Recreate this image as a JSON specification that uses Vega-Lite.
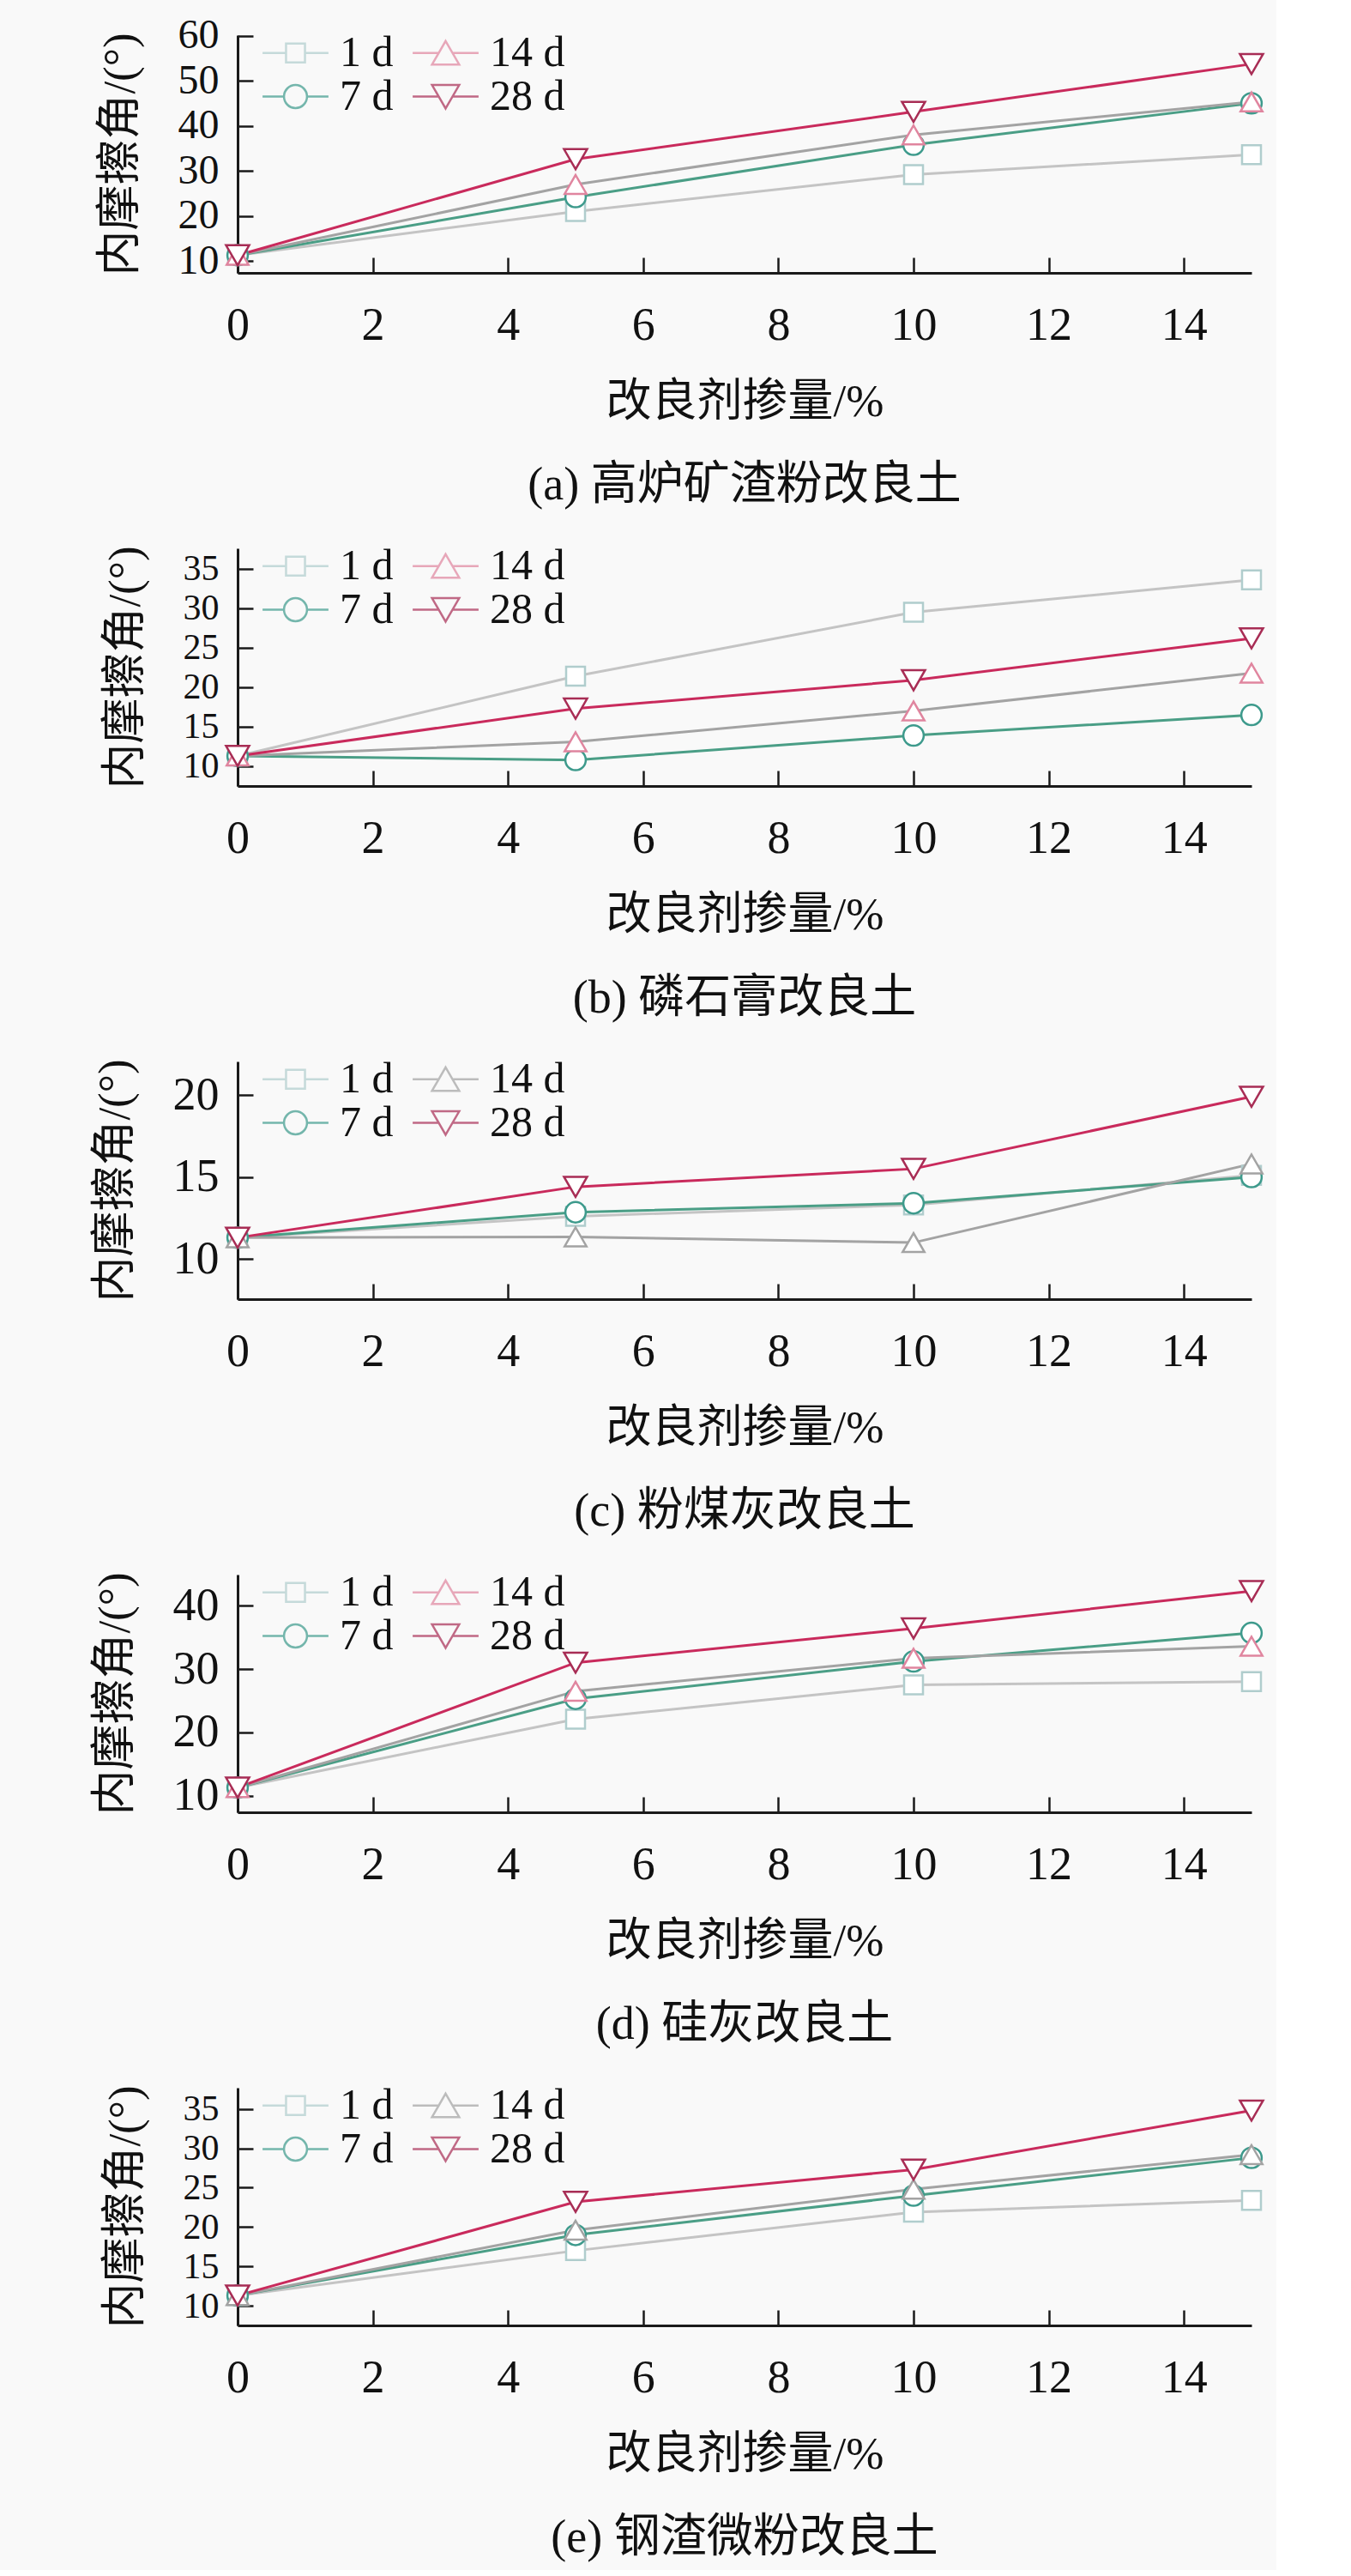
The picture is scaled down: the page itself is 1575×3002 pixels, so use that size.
{
  "$schema": "https://vega.github.io/schema/vega-lite/v6.json",
  "background": "#f9f9f9",
  "padding": {"left": 108, "top": 17, "right": 10, "bottom": 10},
  "datasets": {
    "phi": [
      {"panel": "a", "dose": 0, "age": "1 d", "phi": 11.3},
      {"panel": "a", "dose": 5, "age": "1 d", "phi": 21.0},
      {"panel": "a", "dose": 10, "age": "1 d", "phi": 29.2},
      {"panel": "a", "dose": 15, "age": "1 d", "phi": 33.6},
      {"panel": "a", "dose": 0, "age": "7 d", "phi": 11.3},
      {"panel": "a", "dose": 5, "age": "7 d", "phi": 24.2},
      {"panel": "a", "dose": 10, "age": "7 d", "phi": 35.8},
      {"panel": "a", "dose": 15, "age": "7 d", "phi": 45.0},
      {"panel": "a", "dose": 0, "age": "14 d", "phi": 11.3},
      {"panel": "a", "dose": 5, "age": "14 d", "phi": 27.0},
      {"panel": "a", "dose": 10, "age": "14 d", "phi": 38.0},
      {"panel": "a", "dose": 15, "age": "14 d", "phi": 45.3},
      {"panel": "a", "dose": 0, "age": "28 d", "phi": 11.3},
      {"panel": "a", "dose": 5, "age": "28 d", "phi": 32.6},
      {"panel": "a", "dose": 10, "age": "28 d", "phi": 43.1},
      {"panel": "a", "dose": 15, "age": "28 d", "phi": 53.7},

      {"panel": "b", "dose": 0, "age": "1 d", "phi": 11.3},
      {"panel": "b", "dose": 5, "age": "1 d", "phi": 21.4},
      {"panel": "b", "dose": 10, "age": "1 d", "phi": 29.5},
      {"panel": "b", "dose": 15, "age": "1 d", "phi": 33.6},
      {"panel": "b", "dose": 0, "age": "7 d", "phi": 11.3},
      {"panel": "b", "dose": 5, "age": "7 d", "phi": 10.8},
      {"panel": "b", "dose": 10, "age": "7 d", "phi": 13.9},
      {"panel": "b", "dose": 15, "age": "7 d", "phi": 16.5},
      {"panel": "b", "dose": 0, "age": "14 d", "phi": 11.3},
      {"panel": "b", "dose": 5, "age": "14 d", "phi": 13.1},
      {"panel": "b", "dose": 10, "age": "14 d", "phi": 17.0},
      {"panel": "b", "dose": 15, "age": "14 d", "phi": 21.8},
      {"panel": "b", "dose": 0, "age": "28 d", "phi": 11.3},
      {"panel": "b", "dose": 5, "age": "28 d", "phi": 17.3},
      {"panel": "b", "dose": 10, "age": "28 d", "phi": 20.9},
      {"panel": "b", "dose": 15, "age": "28 d", "phi": 26.2},

      {"panel": "c", "dose": 0, "age": "1 d", "phi": 11.3},
      {"panel": "c", "dose": 5, "age": "1 d", "phi": 12.6},
      {"panel": "c", "dose": 10, "age": "1 d", "phi": 13.3},
      {"panel": "c", "dose": 15, "age": "1 d", "phi": 15.1},
      {"panel": "c", "dose": 0, "age": "7 d", "phi": 11.3},
      {"panel": "c", "dose": 5, "age": "7 d", "phi": 12.85},
      {"panel": "c", "dose": 10, "age": "7 d", "phi": 13.4},
      {"panel": "c", "dose": 15, "age": "7 d", "phi": 15.0},
      {"panel": "c", "dose": 0, "age": "14 d", "phi": 11.3},
      {"panel": "c", "dose": 5, "age": "14 d", "phi": 11.35},
      {"panel": "c", "dose": 10, "age": "14 d", "phi": 11.0},
      {"panel": "c", "dose": 15, "age": "14 d", "phi": 15.8},
      {"panel": "c", "dose": 0, "age": "28 d", "phi": 11.3},
      {"panel": "c", "dose": 5, "age": "28 d", "phi": 14.4},
      {"panel": "c", "dose": 10, "age": "28 d", "phi": 15.5},
      {"panel": "c", "dose": 15, "age": "28 d", "phi": 19.9},

      {"panel": "d", "dose": 0, "age": "1 d", "phi": 11.3},
      {"panel": "d", "dose": 5, "age": "1 d", "phi": 22.1},
      {"panel": "d", "dose": 10, "age": "1 d", "phi": 27.5},
      {"panel": "d", "dose": 15, "age": "1 d", "phi": 28.0},
      {"panel": "d", "dose": 0, "age": "7 d", "phi": 11.3},
      {"panel": "d", "dose": 5, "age": "7 d", "phi": 25.3},
      {"panel": "d", "dose": 10, "age": "7 d", "phi": 31.2},
      {"panel": "d", "dose": 15, "age": "7 d", "phi": 35.7},
      {"panel": "d", "dose": 0, "age": "14 d", "phi": 11.3},
      {"panel": "d", "dose": 5, "age": "14 d", "phi": 26.5},
      {"panel": "d", "dose": 10, "age": "14 d", "phi": 31.7},
      {"panel": "d", "dose": 15, "age": "14 d", "phi": 33.6},
      {"panel": "d", "dose": 0, "age": "28 d", "phi": 11.3},
      {"panel": "d", "dose": 5, "age": "28 d", "phi": 31.0},
      {"panel": "d", "dose": 10, "age": "28 d", "phi": 36.4},
      {"panel": "d", "dose": 15, "age": "28 d", "phi": 42.3},

      {"panel": "e", "dose": 0, "age": "1 d", "phi": 11.3},
      {"panel": "e", "dose": 5, "age": "1 d", "phi": 17.0},
      {"panel": "e", "dose": 10, "age": "1 d", "phi": 21.9},
      {"panel": "e", "dose": 15, "age": "1 d", "phi": 23.4},
      {"panel": "e", "dose": 0, "age": "7 d", "phi": 11.3},
      {"panel": "e", "dose": 5, "age": "7 d", "phi": 19.0},
      {"panel": "e", "dose": 10, "age": "7 d", "phi": 24.0},
      {"panel": "e", "dose": 15, "age": "7 d", "phi": 28.8},
      {"panel": "e", "dose": 0, "age": "14 d", "phi": 11.3},
      {"panel": "e", "dose": 5, "age": "14 d", "phi": 19.6},
      {"panel": "e", "dose": 10, "age": "14 d", "phi": 24.8},
      {"panel": "e", "dose": 15, "age": "14 d", "phi": 29.2},
      {"panel": "e", "dose": 0, "age": "28 d", "phi": 11.3},
      {"panel": "e", "dose": 5, "age": "28 d", "phi": 23.2},
      {"panel": "e", "dose": 10, "age": "28 d", "phi": 27.3},
      {"panel": "e", "dose": 15, "age": "28 d", "phi": 34.8}
    ]
  },
  "config": {
    "view": {"stroke": null},
    "font": "Liberation Serif, Noto Sans CJK SC",
    "axis": {
      "grid": false,
      "domainColor": "#1a1a1a",
      "domainWidth": 3,
      "tickColor": "#1a1a1a",
      "tickWidth": 2.5,
      "tickSize": -18,
      "labelFont": "Liberation Serif",
      "labelFontSize": 54,
      "labelColor": "#111111",
      "labelOverlap": false,
      "titleFont": "Liberation Serif, Noto Sans CJK SC",
      "titleFontSize": 53,
      "titleFontWeight": "normal",
      "titleColor": "#111111"
    },
    "axisX": {"labelPadding": 52, "titlePadding": 36, "labelFlush": false},
    "axisY": {"labelPadding": 40, "titlePadding": 40},
    "title": {"font": "Liberation Serif, Noto Sans CJK SC", "fontSize": 54, "fontWeight": "normal", "color": "#111111", "orient": "bottom", "offset": 44},
    "legend": {
      "orient": "none",
      "legendX": 42,
      "legendY": -5,
      "columns": 2,
      "columnPadding": 17,
      "rowPadding": 0,
      "padding": 0,
      "labelFont": "Liberation Serif",
      "labelFontSize": 50,
      "labelColor": "#111111",
      "labelOffset": 26,
      "symbolSize": 2304,
      "symbolStrokeWidth": 2.5,
      "title": null
    }
  },
  "vconcat": [
    {
      "width": 1182, "height": 277,
      "title": "(a) 高炉矿渣粉改良土",
      "data": {"name": "phi"},
      "transform": [{"filter": "datum.panel === 'a'"}],
      "encoding": {
        "x": {"field": "dose", "type": "quantitative", "scale": {"domain": [0, 15], "nice": false}, "axis": {"values": [0, 2, 4, 6, 8, 10, 12, 14], "title": "改良剂掺量/%"}},
        "y": {"field": "phi", "type": "quantitative", "scale": {"domain": [7.4, 60.1], "nice": false, "zero": false}, "axis": {"values": [10, 20, 30, 40, 50, 60], "title": "内摩擦角/(°)", "labelFontSize": 48}}
      },
      "layer": [
        {"mark": {"type": "line", "strokeWidth": 3}, "encoding": {"stroke": {"field": "age", "type": "nominal", "scale": {"domain": ["1 d", "7 d", "14 d", "28 d"], "range": ["#c4c4c4", "#4a9e86", "#a3a3a3", "#c92a5c"]}, "legend": null}}},
        {"mark": {"type": "point", "filled": false, "fill": "#ffffff", "strokeWidth": 2.5, "opacity": 1},
         "encoding": {
           "shape": {"field": "age", "type": "nominal", "scale": {"domain": ["1 d", "7 d", "14 d", "28 d"], "range": ["square", "circle", "triangle-up", "triangle-down"]}, "legend": null},
           "stroke": {"field": "age", "type": "nominal", "scale": {"domain": ["1 d", "7 d", "14 d", "28 d"], "range": ["#b0cdcd", "#3d9a8c", "#e0859f", "#a82d55"]}, "legend": null},
           "size": {"field": "age", "type": "nominal", "scale": {"domain": ["1 d", "7 d", "14 d", "28 d"], "range": [484, 729, 1450, 1450]}, "legend": null}
         }},
        {"transform": [{"filter": "false"}],
         "mark": {"type": "point", "filled": false, "strokeWidth": 2.5, "size": 2304},
         "encoding": {
           "shape": {"field": "age", "type": "nominal", "scale": {"domain": ["1 d", "7 d", "14 d", "28 d"], "range": ["M-1.6,0H-0.46M0.46,0H1.6M-0.46,-0.46H0.46V0.46H-0.46Z", "M-1.6,0H-0.56M0.56,0H1.6M0.56,0A0.56,0.56,0,1,1,-0.56,0A0.56,0.56,0,1,1,0.56,0Z", "M-1.6,0H-0.33M0.33,0H1.6M0,-0.58L0.66,0.56L-0.66,0.56Z", "M-1.6,0H-0.33M0.33,0H1.6M0,0.58L0.66,-0.56L-0.66,-0.56Z"]}, "legend": {"title": null}},
           "stroke": {"field": "age", "type": "nominal", "scale": {"domain": ["1 d", "7 d", "14 d", "28 d"], "range": ["#b0cdcd", "#3d9a8c", "#e0859f", "#a82d55"]}, "legend": {"title": null}}
         }}
      ],
      "resolve": {"scale": {"stroke": "independent", "shape": "independent", "size": "independent"}}
    },
    {
      "width": 1182, "height": 277,
      "title": "(b) 磷石膏改良土",
      "data": {"name": "phi"},
      "transform": [{"filter": "datum.panel === 'b'"}],
      "encoding": {
        "x": {"field": "dose", "type": "quantitative", "scale": {"domain": [0, 15], "nice": false}, "axis": {"values": [0, 2, 4, 6, 8, 10, 12, 14], "title": "改良剂掺量/%"}},
        "y": {"field": "phi", "type": "quantitative", "scale": {"domain": [7.5, 37.6], "nice": false, "zero": false}, "axis": {"values": [10, 15, 20, 25, 30, 35], "title": "内摩擦角/(°)", "labelFontSize": 42}}
      },
      "layer": [
        {"mark": {"type": "line", "strokeWidth": 3}, "encoding": {"stroke": {"field": "age", "type": "nominal", "scale": {"domain": ["1 d", "7 d", "14 d", "28 d"], "range": ["#c4c4c4", "#4a9e86", "#a3a3a3", "#c92a5c"]}, "legend": null}}},
        {"mark": {"type": "point", "filled": false, "fill": "#ffffff", "strokeWidth": 2.5, "opacity": 1},
         "encoding": {
           "shape": {"field": "age", "type": "nominal", "scale": {"domain": ["1 d", "7 d", "14 d", "28 d"], "range": ["square", "circle", "triangle-up", "triangle-down"]}, "legend": null},
           "stroke": {"field": "age", "type": "nominal", "scale": {"domain": ["1 d", "7 d", "14 d", "28 d"], "range": ["#b0cdcd", "#3d9a8c", "#e0859f", "#a82d55"]}, "legend": null},
           "size": {"field": "age", "type": "nominal", "scale": {"domain": ["1 d", "7 d", "14 d", "28 d"], "range": [484, 729, 1450, 1450]}, "legend": null}
         }},
        {"transform": [{"filter": "false"}],
         "mark": {"type": "point", "filled": false, "strokeWidth": 2.5, "size": 2304},
         "encoding": {
           "shape": {"field": "age", "type": "nominal", "scale": {"domain": ["1 d", "7 d", "14 d", "28 d"], "range": ["M-1.6,0H-0.46M0.46,0H1.6M-0.46,-0.46H0.46V0.46H-0.46Z", "M-1.6,0H-0.56M0.56,0H1.6M0.56,0A0.56,0.56,0,1,1,-0.56,0A0.56,0.56,0,1,1,0.56,0Z", "M-1.6,0H-0.33M0.33,0H1.6M0,-0.58L0.66,0.56L-0.66,0.56Z", "M-1.6,0H-0.33M0.33,0H1.6M0,0.58L0.66,-0.56L-0.66,-0.56Z"]}, "legend": {"title": null}},
           "stroke": {"field": "age", "type": "nominal", "scale": {"domain": ["1 d", "7 d", "14 d", "28 d"], "range": ["#b0cdcd", "#3d9a8c", "#e0859f", "#a82d55"]}, "legend": {"title": null}}
         }}
      ],
      "resolve": {"scale": {"stroke": "independent", "shape": "independent", "size": "independent"}}
    },
    {
      "width": 1182, "height": 277,
      "title": "(c) 粉煤灰改良土",
      "data": {"name": "phi"},
      "transform": [{"filter": "datum.panel === 'c'"}],
      "encoding": {
        "x": {"field": "dose", "type": "quantitative", "scale": {"domain": [0, 15], "nice": false}, "axis": {"values": [0, 2, 4, 6, 8, 10, 12, 14], "title": "改良剂掺量/%"}},
        "y": {"field": "phi", "type": "quantitative", "scale": {"domain": [7.55, 22.05], "nice": false, "zero": false}, "axis": {"values": [10, 15, 20], "title": "内摩擦角/(°)"}}
      },
      "layer": [
        {"mark": {"type": "line", "strokeWidth": 3}, "encoding": {"stroke": {"field": "age", "type": "nominal", "scale": {"domain": ["1 d", "7 d", "14 d", "28 d"], "range": ["#c4c4c4", "#4a9e86", "#a3a3a3", "#c92a5c"]}, "legend": null}}},
        {"mark": {"type": "point", "filled": false, "fill": "#ffffff", "strokeWidth": 2.5, "opacity": 1},
         "encoding": {
           "shape": {"field": "age", "type": "nominal", "scale": {"domain": ["1 d", "7 d", "14 d", "28 d"], "range": ["square", "circle", "triangle-up", "triangle-down"]}, "legend": null},
           "stroke": {"field": "age", "type": "nominal", "scale": {"domain": ["1 d", "7 d", "14 d", "28 d"], "range": ["#b0cdcd", "#3d9a8c", "#a3a3a3", "#a82d55"]}, "legend": null},
           "size": {"field": "age", "type": "nominal", "scale": {"domain": ["1 d", "7 d", "14 d", "28 d"], "range": [484, 729, 1450, 1450]}, "legend": null}
         }},
        {"transform": [{"filter": "false"}],
         "mark": {"type": "point", "filled": false, "strokeWidth": 2.5, "size": 2304},
         "encoding": {
           "shape": {"field": "age", "type": "nominal", "scale": {"domain": ["1 d", "7 d", "14 d", "28 d"], "range": ["M-1.6,0H-0.46M0.46,0H1.6M-0.46,-0.46H0.46V0.46H-0.46Z", "M-1.6,0H-0.56M0.56,0H1.6M0.56,0A0.56,0.56,0,1,1,-0.56,0A0.56,0.56,0,1,1,0.56,0Z", "M-1.6,0H-0.33M0.33,0H1.6M0,-0.58L0.66,0.56L-0.66,0.56Z", "M-1.6,0H-0.33M0.33,0H1.6M0,0.58L0.66,-0.56L-0.66,-0.56Z"]}, "legend": {"title": null}},
           "stroke": {"field": "age", "type": "nominal", "scale": {"domain": ["1 d", "7 d", "14 d", "28 d"], "range": ["#b0cdcd", "#3d9a8c", "#a3a3a3", "#a82d55"]}, "legend": {"title": null}}
         }}
      ],
      "resolve": {"scale": {"stroke": "independent", "shape": "independent", "size": "independent"}}
    },
    {
      "width": 1182, "height": 277,
      "title": "(d) 硅灰改良土",
      "data": {"name": "phi"},
      "transform": [{"filter": "datum.panel === 'd'"}],
      "encoding": {
        "x": {"field": "dose", "type": "quantitative", "scale": {"domain": [0, 15], "nice": false}, "axis": {"values": [0, 2, 4, 6, 8, 10, 12, 14], "title": "改良剂掺量/%"}},
        "y": {"field": "phi", "type": "quantitative", "scale": {"domain": [7.4, 44.9], "nice": false, "zero": false}, "axis": {"values": [10, 20, 30, 40], "title": "内摩擦角/(°)"}}
      },
      "layer": [
        {"mark": {"type": "line", "strokeWidth": 3}, "encoding": {"stroke": {"field": "age", "type": "nominal", "scale": {"domain": ["1 d", "7 d", "14 d", "28 d"], "range": ["#c4c4c4", "#4a9e86", "#a3a3a3", "#c92a5c"]}, "legend": null}}},
        {"mark": {"type": "point", "filled": false, "fill": "#ffffff", "strokeWidth": 2.5, "opacity": 1},
         "encoding": {
           "shape": {"field": "age", "type": "nominal", "scale": {"domain": ["1 d", "7 d", "14 d", "28 d"], "range": ["square", "circle", "triangle-up", "triangle-down"]}, "legend": null},
           "stroke": {"field": "age", "type": "nominal", "scale": {"domain": ["1 d", "7 d", "14 d", "28 d"], "range": ["#b0cdcd", "#3d9a8c", "#e0859f", "#a82d55"]}, "legend": null},
           "size": {"field": "age", "type": "nominal", "scale": {"domain": ["1 d", "7 d", "14 d", "28 d"], "range": [484, 729, 1450, 1450]}, "legend": null}
         }},
        {"transform": [{"filter": "false"}],
         "mark": {"type": "point", "filled": false, "strokeWidth": 2.5, "size": 2304},
         "encoding": {
           "shape": {"field": "age", "type": "nominal", "scale": {"domain": ["1 d", "7 d", "14 d", "28 d"], "range": ["M-1.6,0H-0.46M0.46,0H1.6M-0.46,-0.46H0.46V0.46H-0.46Z", "M-1.6,0H-0.56M0.56,0H1.6M0.56,0A0.56,0.56,0,1,1,-0.56,0A0.56,0.56,0,1,1,0.56,0Z", "M-1.6,0H-0.33M0.33,0H1.6M0,-0.58L0.66,0.56L-0.66,0.56Z", "M-1.6,0H-0.33M0.33,0H1.6M0,0.58L0.66,-0.56L-0.66,-0.56Z"]}, "legend": {"title": null}},
           "stroke": {"field": "age", "type": "nominal", "scale": {"domain": ["1 d", "7 d", "14 d", "28 d"], "range": ["#b0cdcd", "#3d9a8c", "#e0859f", "#a82d55"]}, "legend": {"title": null}}
         }}
      ],
      "resolve": {"scale": {"stroke": "independent", "shape": "independent", "size": "independent"}}
    },
    {
      "width": 1182, "height": 277,
      "title": "(e) 钢渣微粉改良土",
      "data": {"name": "phi"},
      "transform": [{"filter": "datum.panel === 'e'"}],
      "encoding": {
        "x": {"field": "dose", "type": "quantitative", "scale": {"domain": [0, 15], "nice": false}, "axis": {"values": [0, 2, 4, 6, 8, 10, 12, 14], "title": "改良剂掺量/%"}},
        "y": {"field": "phi", "type": "quantitative", "scale": {"domain": [7.5, 37.7], "nice": false, "zero": false}, "axis": {"values": [10, 15, 20, 25, 30, 35], "title": "内摩擦角/(°)", "labelFontSize": 42}}
      },
      "layer": [
        {"mark": {"type": "line", "strokeWidth": 3}, "encoding": {"stroke": {"field": "age", "type": "nominal", "scale": {"domain": ["1 d", "7 d", "14 d", "28 d"], "range": ["#c4c4c4", "#4a9e86", "#a3a3a3", "#c92a5c"]}, "legend": null}}},
        {"mark": {"type": "point", "filled": false, "fill": "#ffffff", "strokeWidth": 2.5, "opacity": 1},
         "encoding": {
           "shape": {"field": "age", "type": "nominal", "scale": {"domain": ["1 d", "7 d", "14 d", "28 d"], "range": ["square", "circle", "triangle-up", "triangle-down"]}, "legend": null},
           "stroke": {"field": "age", "type": "nominal", "scale": {"domain": ["1 d", "7 d", "14 d", "28 d"], "range": ["#b0cdcd", "#3d9a8c", "#a3a3a3", "#a82d55"]}, "legend": null},
           "size": {"field": "age", "type": "nominal", "scale": {"domain": ["1 d", "7 d", "14 d", "28 d"], "range": [484, 729, 1450, 1450]}, "legend": null}
         }},
        {"transform": [{"filter": "false"}],
         "mark": {"type": "point", "filled": false, "strokeWidth": 2.5, "size": 2304},
         "encoding": {
           "shape": {"field": "age", "type": "nominal", "scale": {"domain": ["1 d", "7 d", "14 d", "28 d"], "range": ["M-1.6,0H-0.46M0.46,0H1.6M-0.46,-0.46H0.46V0.46H-0.46Z", "M-1.6,0H-0.56M0.56,0H1.6M0.56,0A0.56,0.56,0,1,1,-0.56,0A0.56,0.56,0,1,1,0.56,0Z", "M-1.6,0H-0.33M0.33,0H1.6M0,-0.58L0.66,0.56L-0.66,0.56Z", "M-1.6,0H-0.33M0.33,0H1.6M0,0.58L0.66,-0.56L-0.66,-0.56Z"]}, "legend": {"title": null}},
           "stroke": {"field": "age", "type": "nominal", "scale": {"domain": ["1 d", "7 d", "14 d", "28 d"], "range": ["#b0cdcd", "#3d9a8c", "#a3a3a3", "#a82d55"]}, "legend": {"title": null}}
         }}
      ],
      "resolve": {"scale": {"stroke": "independent", "shape": "independent", "size": "independent"}}
    }
  ],
  "spacing": 321,
  "bounds": "flush"
}
